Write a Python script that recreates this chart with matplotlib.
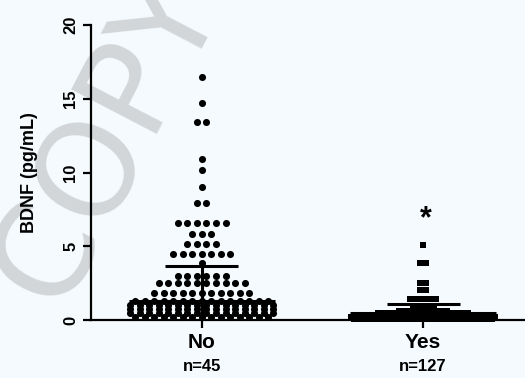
"""Column scatter of BDNF by group, Prism style."""
import matplotlib

matplotlib.use("Agg")

import matplotlib.pyplot as plt  # noqa: E402
import numpy as np  # noqa: E402

# rows of the dot plot: value level and number of dots at that level
no_levels = [16.5, 14.7, 13.45, 10.9, 10.15, 9.0, 7.95, 6.55, 5.8, 5.15, 4.5,
             3.85, 3.0, 2.5, 1.85, 1.3, 1.0, 0.75, 0.48, 0.22]
no_counts = [1, 1, 2, 1, 1, 1, 2, 6, 3, 4, 7, 1, 6, 10, 11, 15, 16, 16, 16, 15]
yes_levels = [5.1, 3.85, 2.5, 2.05, 1.4, 0.8, 0.62, 0.47, 0.32, 0.18, 0.06]
yes_counts = [1, 2, 2, 2, 6, 5, 10, 18, 26, 28, 27]

# centre line and upper error bar
no_center, no_upper = 1.3, 3.65
yes_center, yes_upper = 0.45, 1.09

groups = ["No", "Yes"]
group_n = ["n=45", "n=127"]

BG = "#f4fafd"


def swarm(levels, counts, pos, step):
    xs, ys = [], []
    for v, n in zip(levels, counts):
        xs.extend(pos + (np.arange(n) - (n - 1) / 2) * step)
        ys.extend([v] * n)
    return np.array(xs), np.array(ys)


fig = plt.figure(figsize=(5.25, 3.78), dpi=100, facecolor=BG)
ax = fig.add_axes([0.1733, 0.1534, 0.8267, 0.7804])
ax.patch.set_alpha(0)

# faint watermark behind the plot
fig.text(0.205, 0.635, "COPY", fontsize=94, color="#d3d6d8", rotation=62.5,
         ha="center", va="center", zorder=-1, family="DejaVu Sans")

x0, y0 = swarm(no_levels, no_counts, 0, 0.043)
ax.scatter(x0, y0, s=26, marker="o", color="black", linewidths=0,
           clip_on=False, zorder=3)
x1, y1 = swarm(yes_levels, yes_counts, 1, 0.024)
ax.scatter(x1, y1, s=18, marker="s", color="black", linewidths=0,
           clip_on=False, zorder=3)

for pos, c, up in [(0, no_center, no_upper), (1, yes_center, yes_upper)]:
    ax.hlines(c, pos - 0.33, pos + 0.33, color="black", lw=2.2, zorder=4)
    ax.hlines(up, pos - 0.165, pos + 0.165, color="black", lw=2.2, zorder=4)
    ax.vlines(pos, max(0, 2 * c - up), up, color="black", lw=2.2, zorder=4)

ax.text(1.01, 6.8, "*", fontsize=22, fontweight="bold", ha="center",
        va="center", family="Liberation Sans")

ax.set_xlim(-0.5, 1.46)
ax.set_ylim(0, 20)
ax.set_yticks([0, 5, 10, 15, 20])
ax.set_yticklabels(["0", "5", "10", "15", "20"], rotation=90, va="center",
                   fontsize=12, fontweight="bold", family="Liberation Sans")
ax.set_xticks([0, 1])
ax.set_xticklabels(groups, fontsize=15, fontweight="bold",
                   family="Liberation Sans")
for i, lab in enumerate(groups):
    ax.text(i, -0.158, group_n[i], transform=ax.get_xaxis_transform(),
            ha="center", va="center", fontsize=12, fontweight="bold",
            family="Liberation Sans")

ax.set_ylabel("BDNF (pg/mL)", fontsize=13, fontweight="bold",
              family="Liberation Sans")
ax.yaxis.set_label_coords(-0.122, 0.5)

for side in ["top", "right"]:
    ax.spines[side].set_visible(False)
for side in ["left", "bottom"]:
    ax.spines[side].set_linewidth(1.6)
ax.tick_params(axis="both", width=1.6, length=6, pad=3)

fig.savefig("out.png", dpi=100, facecolor=BG)
plt.close(fig)
